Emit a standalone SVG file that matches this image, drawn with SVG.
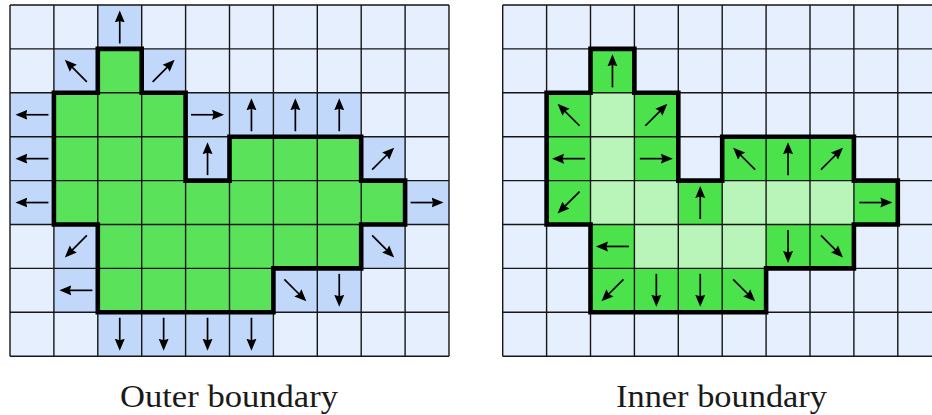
<svg xmlns="http://www.w3.org/2000/svg" width="932" height="415" viewBox="0 0 932 415">
<defs>
<style>
.bg{fill:#e6effe}
.bl{fill:#c1d8fb}
.gr{fill:#5ae35a}
.g2{fill:#4be24b}
.lg{fill:#b9f4b9}
.grid{fill:none;stroke:#161616;stroke-width:1.4}
.outl{fill:none;stroke:#000;stroke-width:4.6;stroke-linejoin:miter}
.ar{stroke:#000;stroke-width:1.7;fill:none;marker-end:url(#ah)}
.lbl{font-family:"Liberation Serif","DejaVu Serif",serif;font-size:32px;fill:#1a1a1a}
</style>
<marker id="ah" markerUnits="userSpaceOnUse" markerWidth="13" markerHeight="11" refX="8" refY="5" orient="auto" viewBox="0 0 13 10">
<path d="M0,0 L12,5 L0,10 L1.5,5 Z" fill="#000"/>
</marker>
<path id="shape" d="M87.8,43.9 H131.7 V87.8 H175.6 V175.6 H219.5 V131.7 H351.2 V175.6 H395.1 V219.5 H351.2 V263.4 H263.4 V307.3 H87.8 V219.5 H43.9 V87.8 H87.8 Z"/>
<path id="gridlines" d="M0,0 V351.2 M43.9,0 V351.2 M87.8,0 V351.2 M131.7,0 V351.2 M175.6,0 V351.2 M219.5,0 V351.2 M263.4,0 V351.2 M307.3,0 V351.2 M351.2,0 V351.2 M395.1,0 V351.2 M439,0 V351.2 M0,0 H439 M0,43.9 H439 M0,87.8 H439 M0,131.7 H439 M0,175.6 H439 M0,219.5 H439 M0,263.4 H439 M0,307.3 H439 M0,351.2 H439"/>
</defs>

<g id="outer-panel" transform="translate(10,5)">
<rect class="bg" x="0" y="0" width="439" height="351.2"/>
<g id="outer-cells" class="bl">
<rect x="87.8" y="0" width="43.9" height="43.9"/>
<rect x="43.9" y="43.9" width="43.9" height="43.9"/>
<rect x="131.7" y="43.9" width="43.9" height="43.9"/>
<rect x="0" y="87.8" width="43.9" height="43.9"/>
<rect x="175.6" y="87.8" width="43.9" height="43.9"/>
<rect x="219.5" y="87.8" width="43.9" height="43.9"/>
<rect x="263.4" y="87.8" width="43.9" height="43.9"/>
<rect x="307.3" y="87.8" width="43.9" height="43.9"/>
<rect x="0" y="131.7" width="43.9" height="43.9"/>
<rect x="175.6" y="131.7" width="43.9" height="43.9"/>
<rect x="351.2" y="131.7" width="43.9" height="43.9"/>
<rect x="0" y="175.6" width="43.9" height="43.9"/>
<rect x="395.1" y="175.6" width="43.9" height="43.9"/>
<rect x="43.9" y="219.5" width="43.9" height="43.9"/>
<rect x="351.2" y="219.5" width="43.9" height="43.9"/>
<rect x="43.9" y="263.4" width="43.9" height="43.9"/>
<rect x="263.4" y="263.4" width="43.9" height="43.9"/>
<rect x="307.3" y="263.4" width="43.9" height="43.9"/>
<rect x="87.8" y="307.3" width="43.9" height="43.9"/>
<rect x="131.7" y="307.3" width="43.9" height="43.9"/>
<rect x="175.6" y="307.3" width="43.9" height="43.9"/>
<rect x="219.5" y="307.3" width="43.9" height="43.9"/>
</g>
<use href="#shape" class="gr"/>
<use href="#gridlines" class="grid"/>
<use href="#shape" class="outl"/>
<g id="outer-arrows">
<line class="ar" x1="109.75" y1="38.45" x2="109.75" y2="9.45"/>
<line class="ar" x1="76.85" y1="76.85" x2="57.68" y2="57.68"/>
<line class="ar" x1="142.65" y1="76.85" x2="161.82" y2="57.68"/>
<line class="ar" x1="38.45" y1="109.75" x2="9.45" y2="109.75"/>
<line class="ar" x1="181.05" y1="109.75" x2="210.05" y2="109.75"/>
<line class="ar" x1="241.45" y1="126.25" x2="241.45" y2="97.25"/>
<line class="ar" x1="285.35" y1="126.25" x2="285.35" y2="97.25"/>
<line class="ar" x1="329.25" y1="126.25" x2="329.25" y2="97.25"/>
<line class="ar" x1="38.45" y1="153.65" x2="9.45" y2="153.65"/>
<line class="ar" x1="197.55" y1="170.15" x2="197.55" y2="141.15"/>
<line class="ar" x1="362.15" y1="164.65" x2="381.32" y2="145.48"/>
<line class="ar" x1="38.45" y1="197.55" x2="9.45" y2="197.55"/>
<line class="ar" x1="400.55" y1="197.55" x2="429.55" y2="197.55"/>
<line class="ar" x1="76.85" y1="230.45" x2="57.68" y2="249.62"/>
<line class="ar" x1="362.15" y1="230.45" x2="381.32" y2="249.62"/>
<line class="ar" x1="82.35" y1="285.35" x2="53.35" y2="285.35"/>
<line class="ar" x1="274.35" y1="274.35" x2="293.52" y2="293.52"/>
<line class="ar" x1="329.25" y1="268.85" x2="329.25" y2="297.85"/>
<line class="ar" x1="109.75" y1="312.75" x2="109.75" y2="341.75"/>
<line class="ar" x1="153.65" y1="312.75" x2="153.65" y2="341.75"/>
<line class="ar" x1="197.55" y1="312.75" x2="197.55" y2="341.75"/>
<line class="ar" x1="241.45" y1="312.75" x2="241.45" y2="341.75"/>
</g>
</g>

<g id="inner-panel" transform="translate(502.7,5)">
<rect class="bg" x="0" y="0" width="439" height="351.2"/>
<use href="#shape" class="lg"/>
<g id="inner-cells" class="g2">
<rect x="87.8" y="43.9" width="43.9" height="43.9"/>
<rect x="43.9" y="87.8" width="43.9" height="43.9"/>
<rect x="131.7" y="87.8" width="43.9" height="43.9"/>
<rect x="43.9" y="131.7" width="43.9" height="43.9"/>
<rect x="131.7" y="131.7" width="43.9" height="43.9"/>
<rect x="219.5" y="131.7" width="43.9" height="43.9"/>
<rect x="263.4" y="131.7" width="43.9" height="43.9"/>
<rect x="307.3" y="131.7" width="43.9" height="43.9"/>
<rect x="43.9" y="175.6" width="43.9" height="43.9"/>
<rect x="175.6" y="175.6" width="43.9" height="43.9"/>
<rect x="351.2" y="175.6" width="43.9" height="43.9"/>
<rect x="87.8" y="219.5" width="43.9" height="43.9"/>
<rect x="263.4" y="219.5" width="43.9" height="43.9"/>
<rect x="307.3" y="219.5" width="43.9" height="43.9"/>
<rect x="87.8" y="263.4" width="43.9" height="43.9"/>
<rect x="131.7" y="263.4" width="43.9" height="43.9"/>
<rect x="175.6" y="263.4" width="43.9" height="43.9"/>
<rect x="219.5" y="263.4" width="43.9" height="43.9"/>
</g>
<use href="#gridlines" class="grid"/>
<use href="#shape" class="outl"/>
<g id="inner-arrows">
<line class="ar" x1="109.75" y1="82.35" x2="109.75" y2="53.35"/>
<line class="ar" x1="76.85" y1="120.75" x2="57.68" y2="101.58"/>
<line class="ar" x1="142.65" y1="120.75" x2="161.82" y2="101.58"/>
<line class="ar" x1="82.35" y1="153.65" x2="53.35" y2="153.65"/>
<line class="ar" x1="137.15" y1="153.65" x2="166.15" y2="153.65"/>
<line class="ar" x1="252.45" y1="164.65" x2="233.28" y2="145.48"/>
<line class="ar" x1="285.35" y1="170.15" x2="285.35" y2="141.15"/>
<line class="ar" x1="318.25" y1="164.65" x2="337.42" y2="145.48"/>
<line class="ar" x1="76.85" y1="186.55" x2="57.68" y2="205.72"/>
<line class="ar" x1="197.55" y1="214.05" x2="197.55" y2="185.05"/>
<line class="ar" x1="356.65" y1="197.55" x2="385.65" y2="197.55"/>
<line class="ar" x1="126.25" y1="241.45" x2="97.25" y2="241.45"/>
<line class="ar" x1="285.35" y1="224.95" x2="285.35" y2="253.95"/>
<line class="ar" x1="318.25" y1="230.45" x2="337.42" y2="249.62"/>
<line class="ar" x1="120.75" y1="274.35" x2="101.58" y2="293.52"/>
<line class="ar" x1="153.65" y1="268.85" x2="153.65" y2="297.85"/>
<line class="ar" x1="197.55" y1="268.85" x2="197.55" y2="297.85"/>
<line class="ar" x1="230.45" y1="274.35" x2="249.62" y2="293.52"/>
</g>
</g>

<g id="labels">
<text class="lbl" x="120" y="406.5" textLength="218" lengthAdjust="spacingAndGlyphs">Outer boundary</text>
<text class="lbl" x="616" y="406.5" textLength="211" lengthAdjust="spacingAndGlyphs">Inner boundary</text>
</g>
</svg>
